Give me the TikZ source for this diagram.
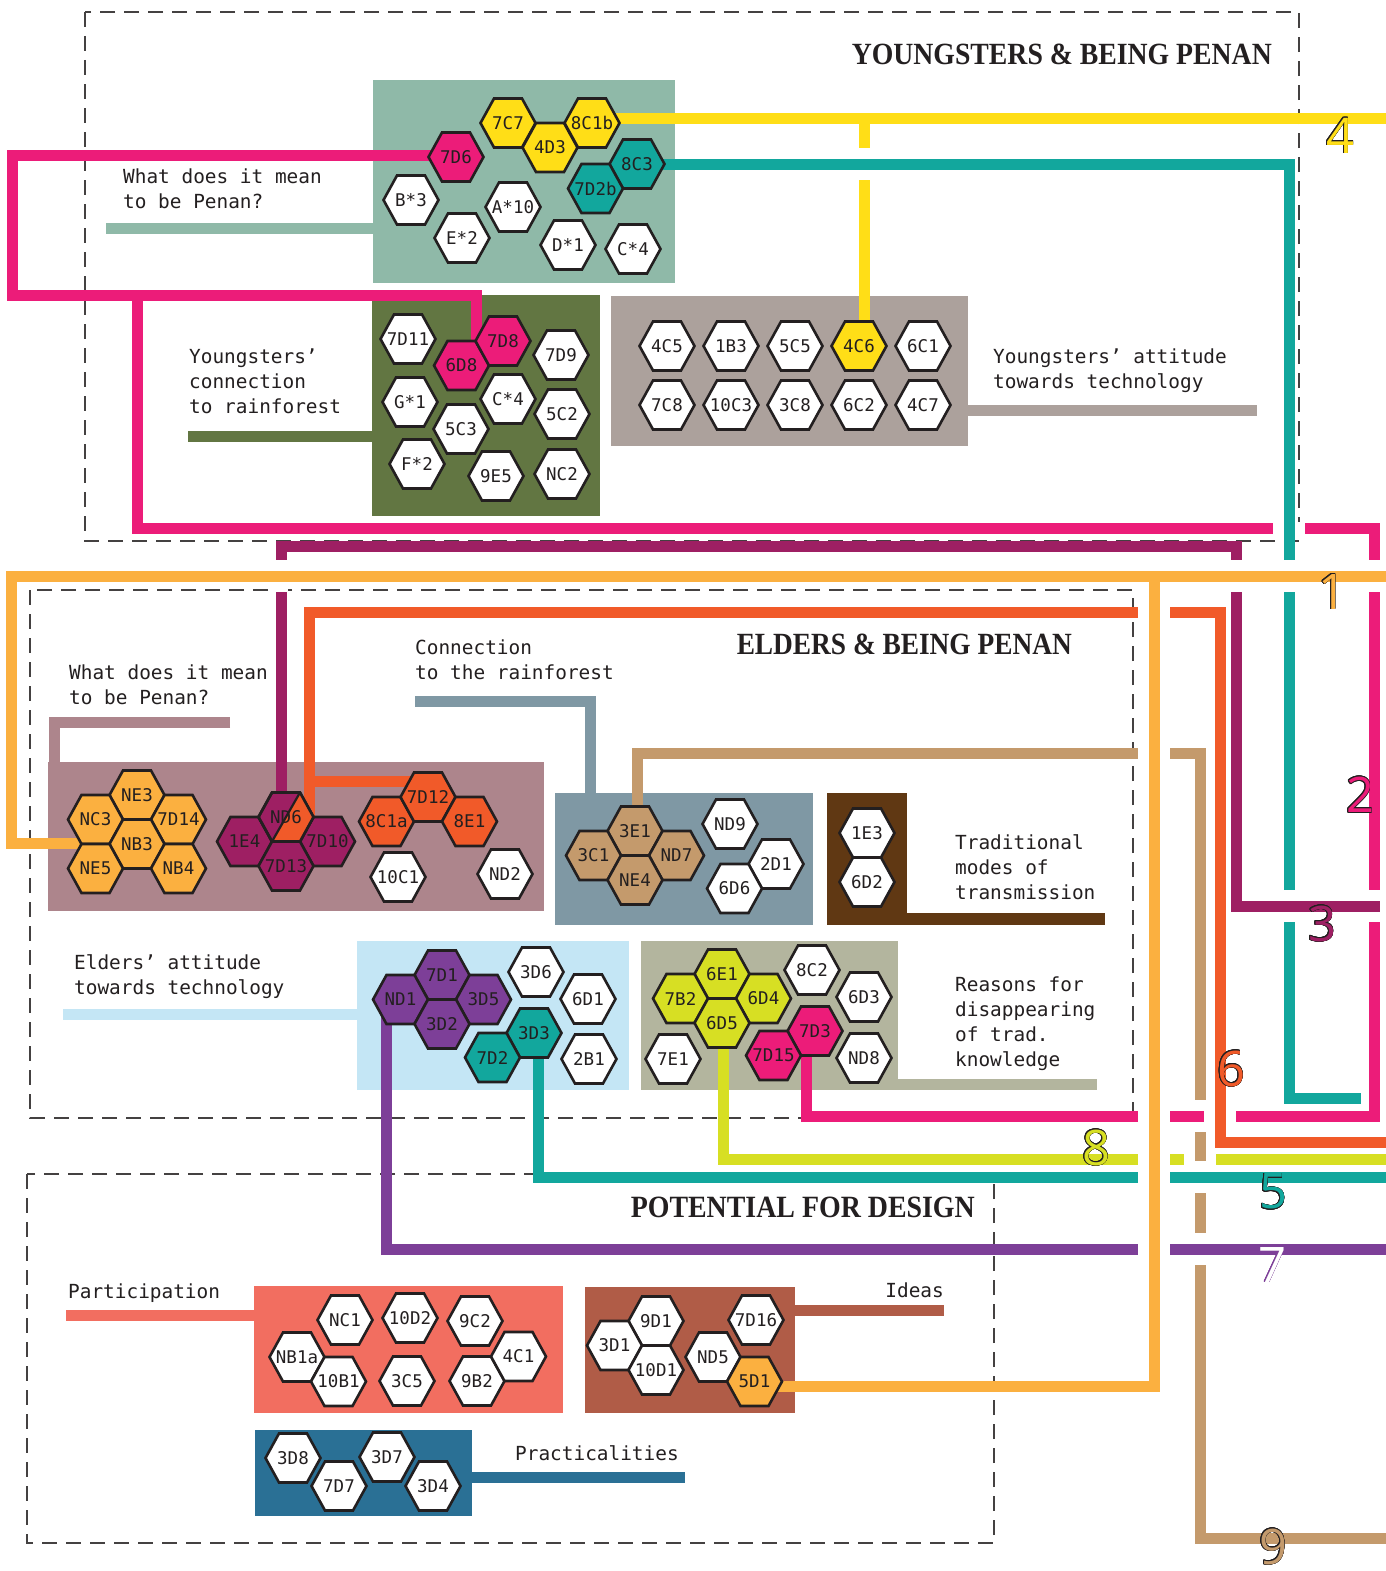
\documentclass[tikz,border=0pt]{standalone}
\usepackage{fontspec}
\usepackage{graphicx}
\usepackage[copies]{contour}
\usetikzlibrary{calc}
\newfontfamily\monofont{DejaVu Sans Mono}
\newfontfamily\titlefont{Liberation Serif}
\newfontfamily\numfont{Open Sans}
\contourlength{0.8pt}

\definecolor{ink}{HTML}{231F20}
\definecolor{cYel}{HTML}{FFDE17}
\definecolor{cPnk}{HTML}{EC1C79}
\definecolor{cTea}{HTML}{12A79D}
\definecolor{cOrg}{HTML}{FBB040}
\definecolor{cMag}{HTML}{9E1F63}
\definecolor{cOred}{HTML}{F15A29}
\definecolor{cTan}{HTML}{C49A6C}
\definecolor{cPur}{HTML}{7D3F98}
\definecolor{cYgr}{HTML}{D7DF23}
\definecolor{cSage}{HTML}{8FB9A8}
\definecolor{cOlive}{HTML}{627642}
\definecolor{cGrey}{HTML}{ACA19C}
\definecolor{cMauve}{HTML}{AD858C}
\definecolor{cSlate}{HTML}{7F98A4}
\definecolor{cBrn}{HTML}{603813}
\definecolor{cLblue}{HTML}{C4E6F5}
\definecolor{cKhaki}{HTML}{B3B59E}
\definecolor{cSalm}{HTML}{F26E60}
\definecolor{cBred}{HTML}{B05C47}
\definecolor{cBlu}{HTML}{2A7095}

\pgfdeclarelayer{boxes}
\pgfdeclarelayer{lines}
\pgfsetlayers{boxes,lines,main}

% hexagon with its label node: [fill]{name}{x,y}{text}
\newcommand\hx[4][white]{%
  \filldraw[hexline, fill=#1, shift={(#3)}] (-27.5,0) -- (-14,-24.5) -- (14,-24.5) -- (27.5,0) -- (14,24.5) -- (-14,24.5) -- cycle;
  \node[hextext] (#2) at (#3) {#4};}
% white cut in a vertical line where a horizontal line passes over it
\newcommand\gapH[2]{\fill[white] ({#1-6.5},{#2-16}) rectangle ({#1+6.5},{#2+16});}
% white cut in a horizontal line where a vertical line passes over it
\newcommand\gapV[2]{\fill[white] ({#1-16},{#2-6.5}) rectangle ({#1+16},{#2+6.5});}

\begin{document}
\begin{tikzpicture}[x=1pt,y=-1pt,
  hexline/.style={draw=ink, line width=2.6pt, line join=miter},
  hextext/.style={inner sep=0pt, font=\monofont\fontsize{17.5}{20}\selectfont, text=ink},
  conn/.style={line width=11pt},
  dashbox/.style={draw=ink!85, line width=1.1pt, dash pattern=on 15pt off 9pt},
  lbl/.style={inner sep=0pt, anchor=base west, font=\monofont\fontsize{19.4}{25}\selectfont, text=ink},
  num/.style={inner sep=0pt, font=\numfont\fontsize{49}{49}\selectfont},
  title/.style={inner sep=0pt, anchor=base east, text=ink}]

\useasboundingbox (0,0) rectangle (1386,1571);

% ---------- coloured panels ----------
\begin{pgfonlayer}{boxes}
\fill[white] (0,0) rectangle (1386,1571);
\draw[dashbox] (85,12) rectangle (1299,541);
\draw[dashbox] (30,590) rectangle (1133,1118);
\draw[dashbox] (27,1174) rectangle (994,1543);

\fill[cSage]  (373,80)   rectangle (675,283);
\fill[cOlive] (372,295)  rectangle (600,516);
\fill[cGrey]  (611,296)  rectangle (968,446);
\fill[cMauve] (48,762)   rectangle (544,911);
\fill[cSlate] (555,793)  rectangle (813,925);
\fill[cBrn]   (827,793)  rectangle (907,925);
\fill[cBrn]   (907,913)  rectangle (1105,925);
\fill[cLblue] (357,941)  rectangle (629,1090);
\fill[cKhaki] (641,941)  rectangle (898,1090);
\fill[cKhaki] (898,1079) rectangle (1097,1090);
\fill[cSalm]  (254,1286) rectangle (563,1413);
\fill[cBred]  (585,1287) rectangle (795,1413);
\fill[cBlu]   (255,1430) rectangle (472,1516);
\end{pgfonlayer}

% ---------- hexagons ----------
% youngsters: meaning of being Penan
\hx[cYel]{h7C7}{508,123}{7C7}
\hx[cYel]{h4D3}{550,147.5}{4D3}
\hx[cYel]{h8C1b}{592,123}{8C1b}
\hx[cPnk]{h7D6}{456,157}{7D6}
\hx[cTea]{h8C3}{637,164}{8C3}
\hx[cTea]{h7D2b}{595.5,188.5}{7D2b}
\hx{hB3}{411,200}{B*3}
\hx{hA10}{513,207}{A*10}
\hx{hE2}{462,238}{E*2}
\hx{hD1}{568,245}{D*1}
\hx{hC4a}{633,249}{C*4}
% youngsters: rainforest
\hx{h7D11}{408,339}{7D11}
\hx[cPnk]{h6D8}{461.5,365.5}{6D8}
\hx[cPnk]{h7D8}{503,341}{7D8}
\hx{h7D9}{561,355}{7D9}
\hx{hG1}{410,402}{G*1}
\hx{hC4b}{508,399}{C*4}
\hx{h5C3}{461,429}{5C3}
\hx{h5C2}{562,414}{5C2}
\hx{hF2}{417,464}{F*2}
\hx{h9E5}{496,476}{9E5}
\hx{hNC2}{562,474}{NC2}
% youngsters: technology
\hx{h4C5}{667,346}{4C5}
\hx{h1B3}{731,346}{1B3}
\hx{h5C5}{795,346}{5C5}
\hx[cYel]{h4C6}{859,346}{4C6}
\hx{h6C1}{923,346}{6C1}
\hx{h7C8}{667,405}{7C8}
\hx{h10C3}{731,405}{10C3}
\hx{h3C8}{795,405}{3C8}
\hx{h6C2}{859,405}{6C2}
\hx{h4C7}{923,405}{4C7}
% elders: meaning of being Penan
\hx[cOrg]{hNE3}{137,795}{NE3}
\hx[cOrg]{hNC3}{95.5,819.5}{NC3}
\hx[cOrg]{h7D14}{178.5,819.5}{7D14}
\hx[cOrg]{hNB3}{137,844}{NB3}
\hx[cOrg]{hNE5}{95.5,868.5}{NE5}
\hx[cOrg]{hNB4}{178.5,868.5}{NB4}
\hx[cMag]{h1E4}{244.5,841.5}{1E4}
\hx[cMag]{h7D10}{327.5,841.5}{7D10}
\hx[cMag]{h7D13}{286,866}{7D13}
% ND6, split between two lines
\filldraw[hexline, fill=cMag, shift={(286,817)}] (-27.5,0) -- (-14,-24.5) -- (14,-24.5) -- (27.5,0) -- (14,24.5) -- (-14,24.5) -- cycle;
\fill[cOred, shift={(286,817)}] (14,-24.5) -- (27.5,0) -- (14,24.5) -- (-14,24.5) -- cycle;
\draw[hexline, shift={(286,817)}] (-27.5,0) -- (-14,-24.5) -- (14,-24.5) -- (27.5,0) -- (14,24.5) -- (-14,24.5) -- cycle;
\draw[ink, line width=2.2pt, shift={(286,817)}] (14,-24.5) -- (-14,24.5);
\node[hextext] (hND6) at (286,817) {ND6};
\hx[cOred]{h8C1a}{386.5,821.5}{8C1a}
\hx[cOred]{h7D12}{428,797}{7D12}
\hx[cOred]{h8E1}{469.5,821.5}{8E1}
\hx{h10C1}{398,877}{10C1}
\hx{hND2}{505,874}{ND2}
% elders: rainforest
\hx[cTan]{h3E1}{635,831}{3E1}
\hx[cTan]{h3C1}{593.5,855.5}{3C1}
\hx[cTan]{hND7}{676.5,855.5}{ND7}
\hx[cTan]{hNE4}{635,880}{NE4}
\hx{hND9}{730,824}{ND9}
\hx{h2D1}{776,864}{2D1}
\hx{h6D6}{734.5,888.5}{6D6}
% elders: transmission
\hx{h1E3}{867,833}{1E3}
\hx{h6D2}{867,882}{6D2}
% elders: technology
\hx[cPur]{h7D1}{442,975}{7D1}
\hx[cPur]{hND1}{400.5,999.5}{ND1}
\hx[cPur]{h3D5}{483.5,999.5}{3D5}
\hx[cPur]{h3D2}{442,1024}{3D2}
\hx[cTea]{h3D3}{534,1033}{3D3}
\hx[cTea]{h7D2}{492.5,1057.5}{7D2}
\hx{h3D6}{536,972}{3D6}
\hx{h6D1}{588,999}{6D1}
\hx{h2B1}{589,1059}{2B1}
% elders: disappearing knowledge
\hx[cYgr]{h6E1}{722,974}{6E1}
\hx[cYgr]{h7B2}{680.5,998.5}{7B2}
\hx[cYgr]{h6D4}{763.5,998.5}{6D4}
\hx[cYgr]{h6D5}{722,1023}{6D5}
\hx[cPnk]{h7D3}{815,1031}{7D3}
\hx[cPnk]{h7D15}{773.5,1055.5}{7D15}
\hx{h8C2}{812,970}{8C2}
\hx{h6D3}{864,997}{6D3}
\hx{hND8}{864,1058}{ND8}
\hx{h7E1}{673,1059}{7E1}
% design: participation
\hx{hNC1}{345,1320}{NC1}
\hx{h10D2}{410,1318}{10D2}
\hx{h9C2}{475,1321}{9C2}
\hx{hNB1a}{297,1357}{NB1a}
\hx{h10B1}{338.5,1381.5}{10B1}
\hx{h3C5}{407,1381}{3C5}
\hx{h9B2}{477,1381}{9B2}
\hx{h4C1}{518.5,1356.5}{4C1}
% design: ideas
\hx{h9D1}{656,1321}{9D1}
\hx{h3D1}{614.5,1345.5}{3D1}
\hx{h10D1}{656,1370}{10D1}
\hx{h7D16}{756,1320}{7D16}
\hx{hND5}{713,1357}{ND5}
\hx[cOrg]{h5D1}{754.5,1381.5}{5D1}
% design: practicalities
\hx{h3D8}{293,1458}{3D8}
\hx{h7D7}{339,1486}{7D7}
\hx{h3D7}{387,1457}{3D7}
\hx{h3D4}{433,1486}{3D4}

% ---------- group labels ----------
\node[lbl] (tYmean) at (123,183) {\begin{tabular}[t]{@{}l@{}}What does it mean\\to be Penan?\end{tabular}};
\node[lbl] (tYforest) at (189,363) {\begin{tabular}[t]{@{}l@{}}Youngsters’\\connection\\to rainforest\end{tabular}};
\node[lbl] (tYtech) at (993,363) {\begin{tabular}[t]{@{}l@{}}Youngsters’ attitude\\towards technology\end{tabular}};
\node[lbl] (tEmean) at (69,679) {\begin{tabular}[t]{@{}l@{}}What does it mean\\to be Penan?\end{tabular}};
\node[lbl] (tEforest) at (415,654) {\begin{tabular}[t]{@{}l@{}}Connection\\to the rainforest\end{tabular}};
\node[lbl] (tEtrans) at (955,849) {\begin{tabular}[t]{@{}l@{}}Traditional\\modes of\\transmission\end{tabular}};
\node[lbl] (tEtech) at (74,969) {\begin{tabular}[t]{@{}l@{}}Elders’ attitude\\towards technology\end{tabular}};
\node[lbl] (tEloss) at (955,991) {\begin{tabular}[t]{@{}l@{}}Reasons for\\disappearing\\of trad.\\knowledge\end{tabular}};
\node[lbl] (tPart) at (68,1298) {Participation};
\node[lbl, anchor=base east] (tIdeas) at (944,1297) {Ideas};
\node[lbl] (tPract) at (515,1460) {Practicalities};

\node[title] (ttlY) at (1272,65) {\resizebox{420pt}{20.5pt}{\titlefont\bfseries YOUNGSTERS \& BEING PENAN}};
\node[title] (ttlE) at (1072,654) {\resizebox{335pt}{20.5pt}{\titlefont\bfseries ELDERS \& BEING PENAN}};
\node[title] (ttlP) at (975,1217) {\resizebox{344pt}{20.5pt}{\titlefont\bfseries POTENTIAL FOR DESIGN}};

% ---------- theme numbers ----------
\node[num] (n1) at (1332,592) {\contour{ink}{\textcolor{cOrg}{1}}};
\node[num] (n2) at (1360,795) {\contour{ink}{\textcolor{cPnk}{2}}};
\node[num] (n3) at (1322,924) {\contour{ink}{\textcolor{cMag}{3}}};
\node[num] (n4) at (1340,136) {\contour{ink}{\textcolor{cYel}{4}}};
\node[num] (n5) at (1273,1192) {\contour{ink}{\textcolor{cTea}{5}}};
\node[num] (n6) at (1231,1069) {\contour{ink}{\textcolor{cOred}{6}}};
\node[num] (n7) at (1272,1265) {\contour{cPur}{\textcolor{white}{7}}};
\node[num] (n8) at (1096,1148) {\contour{ink}{\textcolor{cYgr}{8}}};
\node[num] (n9) at (1273,1547) {\contour{ink}{\textcolor{cTan}{9}}};

% ---------- connectors ----------
\begin{pgfonlayer}{lines}
% label bars leading into the panels
\coordinate (bSageA) at (106,228);   \coordinate (bSageB) at (374,228);
\coordinate (bOlA)   at (188,436);   \coordinate (bOlB)   at (373,436);
\coordinate (bGrA)   at (967,410);   \coordinate (bGrB)   at (1257,410);
\coordinate (bMaA)   at (230,722);   \coordinate (bMaB)   at (54.5,722); \coordinate (bMaC) at (54.5,763);
\coordinate (bSlA)   at (415,701);   \coordinate (bSlB)   at (590,701);  \coordinate (bSlC) at (590,794);
\coordinate (bLbA)   at (63,1014);   \coordinate (bLbB)   at (358,1014);
\coordinate (bSaA)   at (66,1315);   \coordinate (bSaB)   at (255,1315);
\coordinate (bBrA)   at (794,1310);  \coordinate (bBrB)   at (944,1310);
\coordinate (bBlA)   at (471,1477);  \coordinate (bBlB)   at (685,1477);
\draw[conn, cSage]  (bSageA) -- (bSageB);
\draw[conn, cOlive] (bOlA) -- (bOlB);
\draw[conn, cGrey]  (bGrA) -- (bGrB);
\draw[conn, cMauve] (bMaA) -- (bMaB) -- (bMaC);
\draw[conn, cSlate] (bSlA) -- (bSlB) -- (bSlC);
\draw[conn, cLblue] (bLbA) -- (bLbB);
\draw[conn, cSalm]  (bSaA) -- (bSaB);
\draw[conn, cBred]  (bBrA) -- (bBrB);
\draw[conn, cBlu]   (bBlA) -- (bBlB);

% theme 8
\coordinate (g8a) at (723,1159); \coordinate (g8b) at (1386,1159);
\draw[conn, cYgr] (g8a |- h6D5) -- (g8a) -- (g8b);

% theme 9
\gapV{1200}{1159}
\coordinate (t9a) at (637,753); \coordinate (t9b) at (1200,753);
\coordinate (t9c) at (1200,1538); \coordinate (t9d) at (1386,1538);
\draw[conn, cTan] (t9a |- h3E1) -- (t9a) -- (t9b) -- (t9c) -- (t9d);

% theme 2
\gapH{1200}{1116}
\coordinate (p2a) at (12,155); \coordinate (p2b) at (12,295); \coordinate (p2c) at (476,295);
\coordinate (p2t) at (137,295); \coordinate (p2d) at (137,528); \coordinate (p2e) at (1374,528);
\coordinate (p2f) at (1374,1116); \coordinate (p2g) at (806,1116);
\draw[conn, cPnk] (h7D6.center |- p2a) -- (p2a) -- (p2b) -- (p2c) -- (p2c |- h7D8);
\draw[conn, cPnk] (p2t) -- (p2d) -- (p2e) -- (p2f) -- (p2g) -- (p2g |- h7D3);

% theme 4
\coordinate (y4e) at (1386,118); \coordinate (y4t) at (864,118);
\draw[conn, cYel] (h8C1b |- y4e) -- (y4e);
\draw[conn, cYel] (y4t) -- (y4t |- h4C6);

% theme 5, upper branch
\gapH{864}{164}
\gapV{1289}{528}
\coordinate (s5a) at (1289,164); \coordinate (s5b) at (1289,1098); \coordinate (s5c) at (1361,1098);
\draw[conn, cTea] (h8C3 |- s5a) -- (s5a) -- (s5b) -- (s5c);

% theme 3
\gapH{1289}{906}
\gapH{1374}{906}
\coordinate (m3a) at (281,546); \coordinate (m3b) at (1236,546);
\coordinate (m3c) at (1236,906); \coordinate (m3d) at (1380,906);
\draw[conn, cMag] (m3a |- hND6) -- (m3a) -- (m3b) -- (m3c) -- (m3d);

% theme 6
\gapV{1220}{1116}
\coordinate (o6a) at (309,612); \coordinate (o6b) at (1220,612);
\coordinate (o6c) at (1220,1142); \coordinate (o6d) at (1386,1142); \coordinate (o6t) at (309,781);
\draw[conn, cOred] (o6a |- hND6) -- (o6a) -- (o6b) -- (o6c) -- (o6d);
\draw[conn, cOred] (o6t) -- (o6t -| h7D12);

% theme 5, lower branch
\gapH{1200}{1177}
\coordinate (s5d) at (538,1177); \coordinate (s5e) at (1386,1177);
\draw[conn, cTea] (s5d |- h3D3) -- (s5d) -- (s5e);

% theme 7
\gapH{1200}{1249}
\coordinate (v7a) at (386,1249); \coordinate (v7b) at (1386,1249);
\draw[conn, cPur] (v7a |- hND1) ++(0,11) -- (v7a) -- (v7b);

% theme 1
\gapH{281}{576} \gapH{1236}{576} \gapH{1289}{576} \gapH{1374}{576}
\gapV{1154}{612} \gapV{1154}{753} \gapV{1154}{1116}
\gapV{1154}{1159} \gapV{1154}{1177} \gapV{1154}{1249}
\coordinate (o1a) at (11,843); \coordinate (o1b) at (11,576); \coordinate (o1c) at (1386,576);
\coordinate (o1t) at (1154,576); \coordinate (o1d) at (1154,1386);
\draw[conn, cOrg] (o1a -| hNE5) -- (o1a) -- (o1b) -- (o1c);
\draw[conn, cOrg] (o1t) -- (o1d) -- (o1d -| h5D1);
\end{pgfonlayer}
\end{tikzpicture}
\end{document}
